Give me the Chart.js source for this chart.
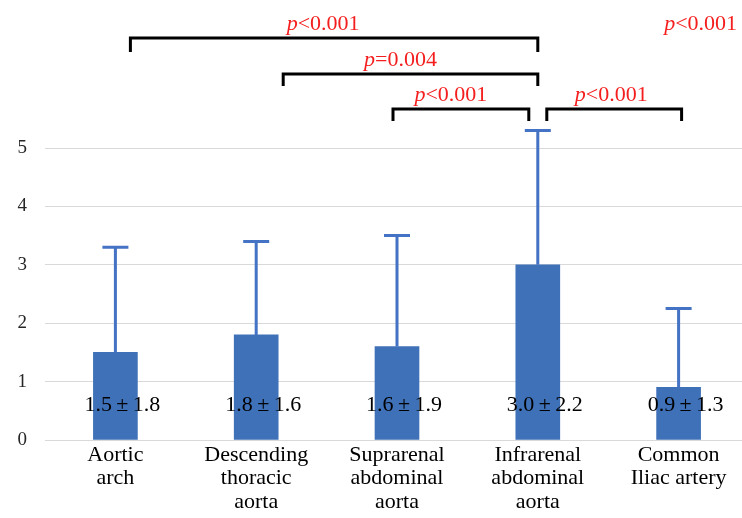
<!DOCTYPE html>
<html>
<head>
<meta charset="utf-8">
<script src="https://cdn.jsdelivr.net/npm/chart.js@4"></script>
<style>
html,body{margin:0;padding:0;background:#fff;overflow:hidden;}
canvas{display:block;}
</style>
</head>
<body>
<canvas id="c" width="749" height="518"></canvas>
<script>
// ---- data ----
const categories = [
  ['Aortic', 'arch'],
  ['Descending', 'thoracic', 'aorta'],
  ['Suprarenal', 'abdominal', 'aorta'],
  ['Infrarenal', 'abdominal', 'aorta'],
  ['Common', 'Iliac artery']
];
const means = [1.5, 1.8, 1.6, 3.0, 0.9];
const errorUp = [1.8, 1.6, 1.9, 2.3, 1.35];           // drawn whisker lengths
const meanText = ['1.5', '1.8', '1.6', '3.0', '0.9'];
const sdText = ['1.8', '1.6', '1.9', '2.2', '1.3'];
const yTicks = [0, 1, 2, 3, 4, 5];

// significance brackets
const bracketFrom = [0, 1, 2, 3];
const bracketTo = [3, 3, 3, 4];
const bracketLevel = [6.89, 6.27, 5.66, 5.66];
const bracketP = ['<0.001', '=0.004', '<0.001', '<0.001'];
const loneP = '<0.001';

const SERIF = '"Liberation Serif", "Times New Roman", serif';

const overlay = {
  id: 'overlay',
  afterDatasetsDraw(chart) {
    const ctx = chart.ctx;
    const xs = chart.scales.x, ys = chart.scales.y;
    ctx.save();
    // error bars
    ctx.strokeStyle = '#4472c4';
    ctx.lineWidth = 3;
    means.forEach((m, i) => {
      const x = xs.getPixelForValue(i);
      const y0 = ys.getPixelForValue(m);
      const y1 = ys.getPixelForValue(m + errorUp[i]);
      ctx.beginPath();
      ctx.moveTo(x, y0); ctx.lineTo(x, y1);
      ctx.moveTo(x - 13, y1); ctx.lineTo(x + 13, y1);
      ctx.stroke();
    });
    // value labels
    ctx.fillStyle = '#000';
    ctx.font = '22px ' + SERIF;
    ctx.textAlign = 'center';
    ctx.textBaseline = 'middle';
    means.forEach((m, i) => {
      const x = xs.getPixelForValue(i);
      const y = ys.getPixelForValue(0.6);
      ctx.fillText(meanText[i] + '\u2009\u00B1\u2009' + sdText[i], x + 7, y);
    });
    // brackets
    const leftOff = [15, 27, -4, 9];
    const rightOff = [0, 0, -9, 3];
    const legLen = [14, 12, 12, 12];
    const textOff = [-11, -10, -10, -3];
    ctx.strokeStyle = '#000';
    ctx.lineWidth = 3;
    ctx.lineCap = 'butt';
    ctx.lineJoin = 'miter';
    const drawP = (txt, cx, baseY) => {
      ctx.textBaseline = 'alphabetic';
      ctx.textAlign = 'left';
      ctx.fillStyle = '#f51e1e';
      ctx.font = 'italic 22px ' + SERIF;
      const w1 = ctx.measureText('p').width;
      ctx.font = '22px ' + SERIF;
      const w2 = ctx.measureText(txt).width;
      const x0 = cx - (w1 + w2) / 2;
      ctx.font = 'italic 22px ' + SERIF;
      ctx.fillText('p', x0, baseY);
      ctx.font = '22px ' + SERIF;
      ctx.fillText(txt, x0 + w1, baseY);
    };
    bracketFrom.forEach((f, k) => {
      const xl = xs.getPixelForValue(f) + leftOff[k];
      const xr = xs.getPixelForValue(bracketTo[k]) + rightOff[k];
      const y = Math.round(ys.getPixelForValue(bracketLevel[k]));
      ctx.beginPath();
      ctx.moveTo(xl, y + legLen[k]);
      ctx.lineTo(xl, y);
      ctx.lineTo(xr, y);
      ctx.lineTo(xr, y + legLen[k]);
      ctx.stroke();
      drawP(bracketP[k], (xl + xr) / 2 + textOff[k], y - 8);
    });
    drawP(loneP, xs.getPixelForValue(4) + 22, Math.round(ys.getPixelForValue(bracketLevel[0])) - 8);
    ctx.restore();
  }
};

new Chart(document.getElementById('c'), {
  type: 'bar',
  data: {
    labels: categories,
    datasets: [{
      data: means,
      backgroundColor: '#3f71b9',
      borderWidth: 0,
      barThickness: 44
    }]
  },
  options: {
    responsive: false,
    animation: false,
    events: [],
    layout: { padding: { top: 2, right: 0, bottom: 0, left: 0 } },
    plugins: { legend: { display: false }, tooltip: { enabled: false } },
    scales: {
      x: {
        grid: { display: false, drawTicks: false },
        border: { display: false },
        ticks: {
          color: '#000',
          font: { family: SERIF, size: 22, lineHeight: 1.05 },
          padding: 4,
          maxRotation: 0,
          autoSkip: false
        },
        afterFit(s) { s.height = 78; s.paddingLeft = 0; s.paddingRight = 0; }
      },
      y: {
        min: 0,
        max: 7.5,
        afterBuildTicks(s) { s.ticks = yTicks.map(v => ({ value: v })); },
        grid: { color: '#d9d9d9', lineWidth: 1, drawTicks: false },
        border: { display: false },
        ticks: {
          color: '#262626',
          font: { family: SERIF, size: 19 },
          padding: 18
        },
        afterFit(s) { s.width = 45; s.paddingTop = 0; s.paddingBottom = 0; }
      }
    }
  },
  plugins: [overlay]
});
</script>
</body>
</html>
